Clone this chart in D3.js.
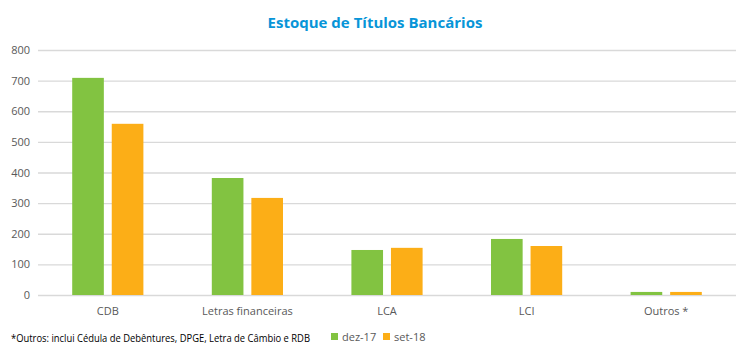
<!DOCTYPE html>
<html><head><meta charset="utf-8">
<script src="https://cdn.jsdelivr.net/npm/d3@7"></script>
<style>body{margin:0;background:#fff}svg{display:block;font-family:"Open Sans",sans-serif}</style>
</head><body>
<svg id="c" width="750" height="358"></svg>
<script>
const categories = ["CDB","Letras financeiras","LCA","LCI","Outros *"];
const seriesNames = ["dez-17","set-18"];
const dez17 = [709, 382, 147, 183, 10];
const set18 = [559, 317, 154, 160, 10];
const yTicks = [0,100,200,300,400,500,600,700,800];
const colors = ["#82c341","#fcae17"];
const title = "Estoque de Títulos Bancários";
const footnote = "*Outros: inclui Cédula de Debêntures, DPGE, Letra de Câmbio e RDB";

const svg = d3.select("#c");
const x0 = d3.scaleBand().domain(categories).range([38,736]).paddingInner(0).paddingOuter(0);
const y = d3.scaleLinear().domain([0,800]).range([295,50]);
const inner = d3.scaleBand().domain(seriesNames).range([x0.bandwidth()*0.245, x0.bandwidth()*0.755]).paddingInner(0.2);

// gridlines
svg.append("g").attr("transform","translate(38,0)")
  .call(d3.axisLeft(y).tickValues(yTicks).tickSize(-698).tickFormat(""))
  .call(g=>g.select(".domain").remove())
  .call(g=>g.selectAll("line").attr("stroke","#d9d9d9").attr("stroke-width",1.3));

// y labels
svg.append("g").selectAll("text").data(yTicks).join("text")
  .attr("x",30).attr("y",d=>y(d)+4).attr("text-anchor","end")
  .attr("font-size",11).attr("fill","#595959").text(d=>d);

const data = [dez17,set18];
const groups = svg.append("g").selectAll("g").data(seriesNames).join("g").attr("fill",(d,i)=>colors[i]);
groups.selectAll("rect").data((s,i)=>categories.map((c,j)=>({c,s,v:data[i][j]}))).join("rect")
  .attr("x",d=>x0(d.c)+inner(d.s)).attr("width",inner.bandwidth())
  .attr("y",d=>y(d.v)).attr("height",d=>y(0)-y(d.v));

// x labels
svg.append("g").selectAll("text").data(categories).join("text")
  .attr("x",d=>x0(d)+x0.bandwidth()/2).attr("y",315).attr("text-anchor","middle")
  .attr("font-size",11).attr("fill","#595959").text(d=>d);

svg.append("text").attr("x",375).attr("y",28).attr("text-anchor","middle")
  .attr("font-size",15).attr("font-weight","bold").attr("fill","#0795d8").text(title);

svg.append("text").attr("x",11).attr("y",342).attr("font-size",10).attr("fill","#000")
  .attr("textLength",299).attr("lengthAdjust","spacingAndGlyphs").text(footnote);

const leg = svg.append("g").selectAll("g").data(seriesNames).join("g")
  .attr("transform",(d,i)=>`translate(${331+i*52},333)`);
leg.append("rect").attr("width",7).attr("height",7).attr("fill",(d,i)=>colors[i]);
leg.append("text").attr("x",11).attr("y",8).attr("font-size",11).attr("fill","#595959").text(d=>d);
</script>
</body></html>
